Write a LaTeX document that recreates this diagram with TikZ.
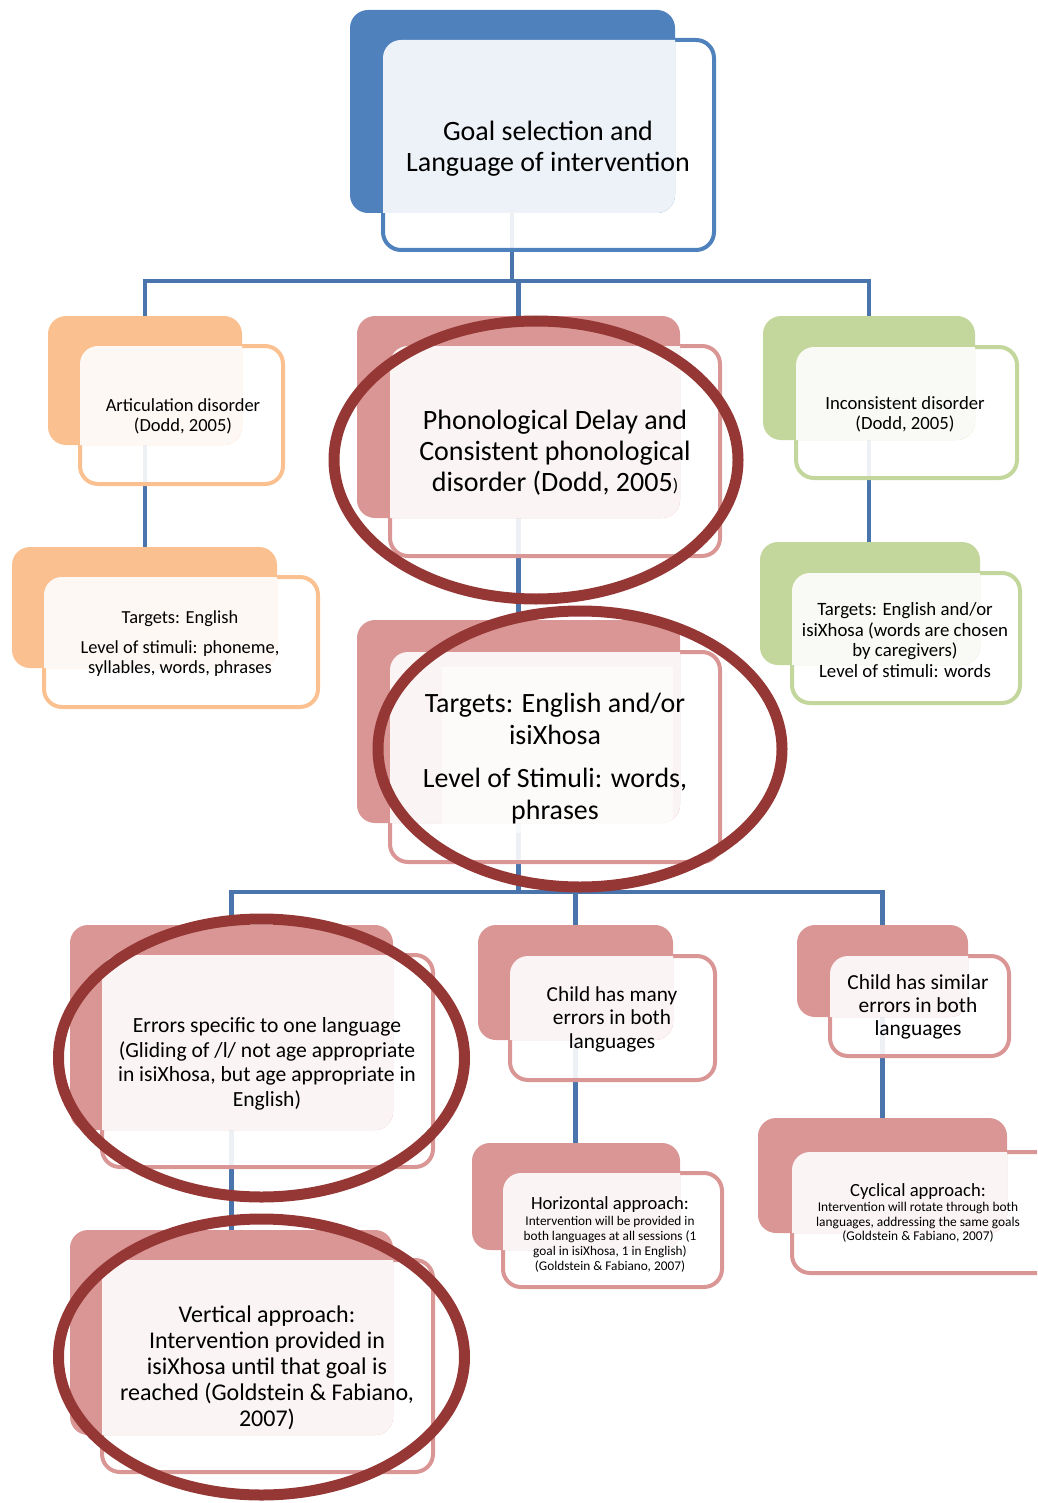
\documentclass[tikz,border=0pt]{standalone}
\usepackage{fontspec}
\setmainfont{Carlito}
\usetikzlibrary{fit}
\pgfdeclarelayer{bg}
\pgfsetlayers{bg,main}

\definecolor{goalblue}{HTML}{4F81BD}
\definecolor{connblue}{HTML}{4A74AC}
\definecolor{artorange}{HTML}{FAC090}
\definecolor{incgreen}{HTML}{C3D69B}
\definecolor{phonpink}{HTML}{D99694}
\definecolor{ringred}{HTML}{953735}

\newcommand\fsz[2]{\fontsize{#1}{#2}\selectfont\lineskiplimit=-20pt\relax}

\tikzset{
  conn/.style={draw=connblue, line width=4.5pt},
  frontbox/.style={rounded corners=18pt, line width=4pt, fill=white, fill opacity=0.9, inner sep=0pt, outer sep=0pt},
  backbox/.style={rounded corners=18pt, draw=none, inner sep=0pt, outer sep=0pt},
  txt/.style={align=center, inner sep=0pt, text=black, yshift=-2pt},
  ring/.style={draw=ringred, line width=11pt},
}

% a card: outlined front panel, filled back panel, translucent overlap
% #1 name, #2 colour, #3/#4 back corners, #5/#6 front corners
\newcommand\card[6]{%
  \node[frontbox, draw=#2, fit={(#5) (#6)}] (#1F) {};
  \node[backbox, fill=#2, fit={(#3) (#4)}] (#1B) {};
  \begin{scope}
    \clip[rounded corners=18pt] (#3) rectangle (#4);
    \fill[white, opacity=0.9, rounded corners=18pt] (#5) rectangle (#6);
  \end{scope}
}

\begin{document}
\begin{tikzpicture}[x=1pt, y=-1pt]
\useasboundingbox (0,0) rectangle (1037,1503);
\clip (0,0) rectangle (1037,1503);

% cards
\card{goal}{goalblue}{350,10}{675,213}{383,40}{714,250}
\card{art}{artorange}{48,316}{242,445}{80,346}{283,484}
\card{tart}{artorange}{12,547}{277,668}{44,577}{318,707}
\card{phon}{phonpink}{357,316}{680,518}{390,346}{720,556}
\card{inc}{incgreen}{763,316}{975,440}{796,347}{1017,478}
\card{tinc}{incgreen}{760,542}{980,665}{792,573}{1020,703}
\card{tt}{phonpink}{357,620}{680,823}{390,652}{720,862}
\fill[white, opacity=0.6] (442,667) rectangle (673,833);
\card{err}{phonpink}{70,925}{393,1130}{102,955}{433,1167}
\card{vert}{phonpink}{70,1230}{393,1435}{102,1260}{433,1472}
\card{many}{phonpink}{478,925}{673,1040}{510,956}{715,1080}
\card{hor}{phonpink}{472,1143}{680,1250}{503,1173}{722,1287}
\card{sim}{phonpink}{797,925}{968,1017}{830,956}{1009,1056}
\card{cyc}{phonpink}{758,1118}{1007,1233}{792,1152}{1060,1273}

% texts
\node[txt, font=\fsz{28}{31}] (goalT) at (548,147)
  {Goal selection and\\Language of intervention};
\node[txt, font=\fsz{18.5}{20}] (artT) at (183,414)
  {Articulation disorder\\(Dodd, 2005)};
\node[txt, font=\fsz{18.4}{20}] (tartT) at (180,642)
  {Targets: English\\[10pt]Level of stimuli: phoneme,\\syllables, words, phrases};
\node[txt, font=\fsz{28}{31}] (phonT) at (555,451)
  {Phonological Delay and\\Consistent phonological\\disorder (Dodd, 2005{\fsz{18}{18})}};
\node[txt, font=\fsz{18.7}{20}] (incT) at (905,412)
  {Inconsistent disorder\\(Dodd, 2005)};
\node[txt, font=\fsz{18.8}{20.5}] (tincT) at (905,638)
  {Targets: English and/or\\isiXhosa (words are chosen\\by caregivers)\\Level of stimuli: words};
\node[txt, font=\fsz{27.9}{32}] (ttT) at (555,757)
  {Targets: English and/or\\isiXhosa\\[11pt]Level of Stimuli: words,\\phrases};
\node[txt, font=\fsz{21.6}{24.5}] (errT) at (267,1062)
  {Errors specific to one language\\(Gliding of /l/ not age appropriate\\in isiXhosa, but age appropriate in\\English)};
\node[txt, font=\fsz{24}{26}] (vertT) at (267,1366)
  {Vertical approach:\\Intervention provided in\\isiXhosa until that goal is\\reached (Goldstein \& Fabiano,\\2007)};
\node[txt, font=\fsz{21.3}{23.5}] (manyT) at (612,1017)
  {Child has many\\errors in both\\languages};
\node[txt, font=\fsz{21.4}{23.3}] (simT) at (918,1005)
  {Child has similar\\errors in both\\languages};
\node[txt, font=\fsz{13.3}{15}] (horT) at (610,1232)
  {{\fsz{18.6}{18.6}Horizontal approach:}\\[1pt]Intervention will be provided in\\both languages at all sessions (1\\goal in isiXhosa, 1 in English)\\(Goldstein \& Fabiano, 2007)};
\node[txt, font=\fsz{13.4}{14.5}] (cycT) at (918,1211)
  {{\fsz{18.6}{18.6}Cyclical approach:}\\[1pt]Intervention will rotate through both\\languages, addressing the same goals\\(Goldstein \& Fabiano, 2007)};

% connectors, behind the cards
\begin{pgfonlayer}{bg}
  \coordinate (bus1) at (512,281);
  \coordinate (bus2) at (518,892);
  \draw[conn] (goalB.south -| bus1) -- (bus1);
  \draw[conn] (bus1) -| (artB.north);
  \draw[conn] (bus1) -| (phonB.north);
  \draw[conn] (bus1) -| (incB.north);
  \draw[conn] (artB.south) -- (artB.south |- tartB.north);
  \draw[conn] (incB.south) -- (incB.south |- tincB.north);
  \draw[conn] (phonB.south) -- (phonB.south |- ttB.north);
  \draw[conn] (ttB.south) -- (ttB.south |- bus2);
  \draw[conn] (bus2) -| (errB.north);
  \draw[conn] (bus2) -| (manyB.north);
  \draw[conn] (bus2) -| (simB.north);
  \draw[conn] (errB.south) -- (errB.south |- vertB.north);
  \draw[conn] (manyB.south) -- (manyB.south |- horB.north);
  \draw[conn] (simB.south) -- (simB.south |- cycB.north);
\end{pgfonlayer}

% highlight rings
\draw[ring] (536,460) ellipse [x radius=202, y radius=139];
\draw[ring] (580,749) ellipse [x radius=202, y radius=138];
\draw[ring] (261.5,1058) ellipse [x radius=203, y radius=139];
\draw[ring] (261.5,1357) ellipse [x radius=203, y radius=138];
\end{tikzpicture}
\end{document}
